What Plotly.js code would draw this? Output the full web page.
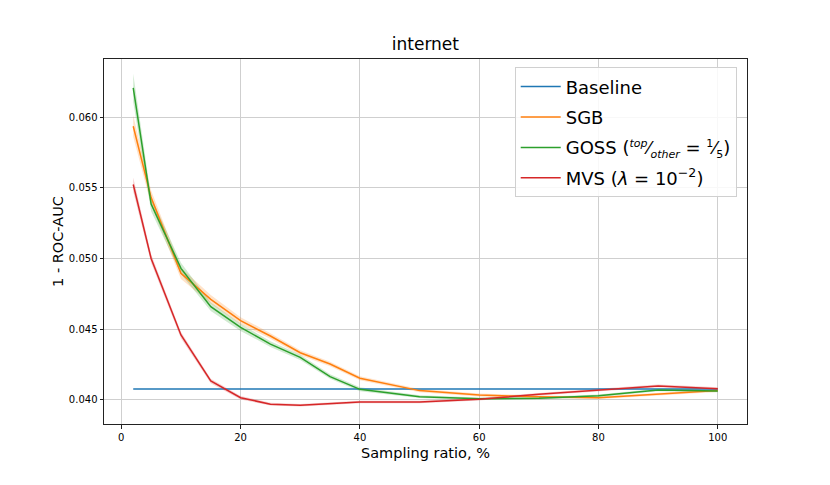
<!DOCTYPE html>
<html>
<head>
<meta charset="utf-8">
<script src="https://cdn.plot.ly/plotly-3.0.1.min.js"></script>
<style>
  html, body { margin: 0; padding: 0; background: #ffffff; }
  #chart { width: 830px; height: 485px; }
</style>
</head>
<body>
<div id="chart"></div>
<script>
(function () {
  "use strict";

  var ratio = [2, 5, 10, 15, 20, 25, 30, 35, 40, 50, 60, 70, 80, 90, 100];

  var baseline = [0.04078, 0.04078, 0.04078, 0.04078, 0.04078, 0.04078, 0.04078, 0.04078,
    0.04078, 0.04078, 0.04078, 0.04078, 0.04078, 0.04078, 0.04078];

  var sgb = [0.05935, 0.05430, 0.04895, 0.04711, 0.04560, 0.04452, 0.04334, 0.04254,
    0.04153, 0.04066, 0.04035, 0.04022, 0.04016, 0.04042, 0.04066];
  var sgbStd = [0.00075, 0.00050, 0.00040, 0.00030, 0.00025, 0.00020, 0.00018, 0.00016,
    0.00014, 0.00012, 0.00010, 0.00009, 0.00009, 0.00009, 0.00009];

  var goss = [0.06206, 0.05384, 0.04930, 0.04659, 0.04513, 0.04395, 0.04301, 0.04165,
    0.04075, 0.04023, 0.04009, 0.04012, 0.04030, 0.04070, 0.04064];
  var gossStd = [0.00100, 0.00050, 0.00040, 0.00030, 0.00025, 0.00020, 0.00018, 0.00016,
    0.00014, 0.00010, 0.00009, 0.00009, 0.00009, 0.00009, 0.00009];

  var mvs = [0.05523, 0.05000, 0.04459, 0.04134, 0.04016, 0.03970, 0.03962, 0.03975,
    0.03986, 0.03986, 0.04005, 0.04040, 0.04071, 0.04099, 0.04080];
  var mvsStd = [0.00050, 0.00030, 0.00022, 0.00016, 0.00012, 0.00010, 0.00009, 0.00009,
    0.00009, 0.00009, 0.00009, 0.00009, 0.00009, 0.00010, 0.00009];

  var xTicks = [0, 20, 40, 60, 80, 100];
  var yTicks = [0.040, 0.045, 0.050, 0.055, 0.060];
  var yTickText = ["0.040", "0.045", "0.050", "0.055", "0.060"];

  var font = { family: "DejaVu Sans, sans-serif", color: "#000000" };

  function band(mean, std, fill, group) {
    var upper = mean.map(function (v, i) { return v + std[i]; });
    var lower = mean.map(function (v, i) { return v - std[i]; });
    return {
      type: "scatter",
      mode: "lines",
      x: ratio.concat(ratio.slice().reverse()),
      y: upper.concat(lower.reverse()),
      fill: "toself",
      fillcolor: fill,
      line: { width: 0, color: fill },
      hoverinfo: "skip",
      showlegend: false,
      legendgroup: group
    };
  }

  function line(y, name, color, group) {
    return {
      type: "scatter",
      mode: "lines",
      x: ratio,
      y: y,
      name: name,
      line: { color: color, width: 1.5 },
      legendgroup: group
    };
  }

  var small = "<span style=\"font-size:11px\">";
  var traces = [
    band(sgb, sgbStd, "rgba(255,127,14,0.22)", "b"),
    band(goss, gossStd, "rgba(44,160,44,0.22)", "c"),
    band(mvs, mvsStd, "rgba(214,39,40,0.22)", "d"),
    line(baseline, "Baseline", "#1f77b4", "a"),
    line(sgb, "SGB", "#ff7f0e", "b"),
    line(goss, "GOSS (<sup>" + small + "<i>top</i></span></sup>\u2044<sub>" + small +
      "<i>other</i></span></sub> = <sup>" + small + "1</span></sup>\u2044<sub>" + small + "5</span></sub>)",
      "#2ca02c", "c"),
    line(mvs, "MVS (<i>\u03bb</i> = 10<sup>\u22122</sup>)", "#d62728", "d")
  ];

  var axisCommon = {
    showline: true,
    mirror: true,
    linecolor: "#222222",
    linewidth: 1,
    ticks: "outside",
    ticklen: 3.5,
    tickwidth: 1,
    tickcolor: "#222222",
    showgrid: true,
    gridcolor: "#cfcfcf",
    gridwidth: 1,
    zeroline: false,
    tickfont: { size: 10, family: font.family, color: "#000000" }
  };

  var layout = {
    font: font,
    width: 830,
    height: 485,
    margin: { l: 104, r: 83, t: 59, b: 61 },
    paper_bgcolor: "#ffffff",
    plot_bgcolor: "#ffffff",
    title: {
      text: "internet",
      font: { size: 17, family: font.family },
      x: 0.5125,
      xanchor: "center",
      y: 0.91,
      yanchor: "middle"
    },
    xaxis: Object.assign({}, axisCommon, {
      range: [-2.9, 104.9],
      tickmode: "array",
      tickvals: xTicks,
      title: { text: "Sampling ratio, %", font: { size: 14.5 }, standoff: 6 }
    }),
    yaxis: Object.assign({}, axisCommon, {
      range: [0.0383, 0.0641],
      tickmode: "array",
      tickvals: yTicks,
      ticktext: yTickText,
      title: { text: "1 - ROC-AUC", font: { size: 14.5 }, standoff: 1 }
    }),
    showlegend: true,
    legend: {
      x: 0.984,
      y: 0.977,
      xanchor: "right",
      yanchor: "top",
      bgcolor: "rgba(255,255,255,0.85)",
      bordercolor: "#d0d0d0",
      borderwidth: 1,
      font: { size: 18, family: font.family, color: "#000000" },
      itemwidth: 40,
      traceorder: "grouped",
      tracegroupgap: 4
    }
  };

  Plotly.newPlot("chart", traces, layout, { displayModeBar: false, staticPlot: true });
}());
</script>
</body>
</html>
